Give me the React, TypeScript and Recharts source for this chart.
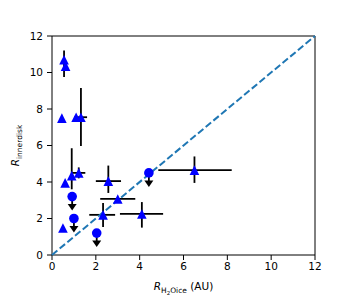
import React from 'react';
import { ScatterChart, Scatter, XAxis, YAxis, ErrorBar, ReferenceLine } from 'recharts';

// detections: R_H2Oice vs R_innerdisk, asymmetric errors as [minus, plus]
const triX = [0.55, 0.62, 0.45, 1.1, 1.32, 0.6, 0.9, 1.22, 0.5, 2.33, 3.0, 2.57, 4.1, 6.5];
const triY = [10.7, 10.35, 7.5, 7.55, 7.55, 3.95, 4.35, 4.5, 1.48, 2.2, 3.07, 4.05, 2.25, 4.65];
const triXErr = [[0, 0], [0, 0], [0, 0], [0, 0], [0.3, 0.28], [0, 0], [0, 0], [0.3, 0.3], [0, 0], [0.63, 0.55], [0.8, 0.8], [0.57, 0.58], [1.0, 0.97], [1.65, 1.7]];
const triYErr = [[0.95, 0.5], [0, 0], [0, 0], [0, 0], [1.58, 1.6], [0, 0], [0.75, 1.5], [0.3, 0.3], [0, 0], [0.67, 0.65], [0, 0], [0.65, 0.85], [0.75, 0.65], [0.7, 0.75]];

// upper limits on R_innerdisk
const limX = [0.92, 1.0, 2.04, 4.42];
const limY = [3.2, 2.0, 1.2, 4.5];

const ticks = [0, 2, 4, 6, 8, 10, 12];

const triangles = triX.map((x, i) => ({ x, y: triY[i], ex: triXErr[i], ey: triYErr[i] }));
const limits = limX.map((x, i) => ({ x, y: limY[i] }));
const diagonal = [{ x: 0, y: 0 }, { x: 12, y: 12 }];

const FONT = 'DejaVu Sans, sans-serif';

const Triangle = (props: any) => {
    const { cx, cy } = props;
    const s = 4.8;
    return <polygon points={`${cx},${cy - s} ${cx - s},${cy + s} ${cx + s},${cy + s}`} fill="#0000ff" />;
};

const LimitMarker = (props: any) => {
    const { cx, cy } = props;
    return (
        <g>
            <line x1={cx} y1={cy} x2={cx} y2={cy + 9} stroke="#000" strokeWidth={1.8} />
            <polygon points={`${cx - 4.5},${cy + 7.5} ${cx + 4.5},${cy + 7.5} ${cx},${cy + 14}`} fill="#000" />
            <circle cx={cx} cy={cy} r={4.8} fill="#0000ff" />
        </g>
    );
};

const XLabel = (props: any) => {
    const { viewBox } = props;
    const x = viewBox.x + viewBox.width / 2;
    const y = viewBox.y + 35;
    return (
        <text x={x} y={y} textAnchor="middle" fontSize={10.5} fontFamily={FONT} fill="#000">
            <tspan fontStyle="italic">R</tspan>
            <tspan dy={3} fontSize={7.5}>H</tspan>
            <tspan dy={1.5} fontSize={5.5}>2</tspan>
            <tspan dy={-1.5} fontSize={7.5}>Oice</tspan>
            <tspan dy={-3}> (AU)</tspan>
        </text>
    );
};

const YLabel = (props: any) => {
    const { viewBox } = props;
    const x = 19;
    const y = viewBox.y + viewBox.height / 2;
    return (
        <text x={x} y={y} textAnchor="middle" fontSize={10.5} fontFamily={FONT} fill="#000" transform={`rotate(-90 ${x} ${y})`}>
            <tspan fontStyle="italic">R</tspan>
            <tspan dy={3} fontSize={7.5}>innerdisk</tspan>
        </text>
    );
};

const App: React.FC = () => {
    const tickStyle = { fill: '#000', fontSize: 10.5, fontFamily: FONT };
    return (
        <div style={{ position: 'absolute', left: 0, top: 0, background: '#fff' }}>
            <ScatterChart width={350} height={300} margin={{ top: 36, right: 35, bottom: 0, left: 0 }}>
                <XAxis
                    type="number"
                    dataKey="x"
                    domain={[0, 12]}
                    ticks={ticks}
                    height={45}
                    tick={tickStyle}
                    tickSize={5}
                    tickMargin={3}
                    axisLine={{ stroke: '#000' }}
                    tickLine={{ stroke: '#000' }}
                    label={<XLabel />}
                />
                <YAxis
                    type="number"
                    dataKey="y"
                    domain={[0, 12]}
                    ticks={ticks}
                    width={52}
                    tick={tickStyle}
                    tickSize={5}
                    tickMargin={4}
                    axisLine={{ stroke: '#000' }}
                    tickLine={{ stroke: '#000' }}
                    label={<YLabel />}
                />
                <ReferenceLine y={12} stroke="#000" />
                <ReferenceLine x={12} stroke="#000" />
                <Scatter
                    data={diagonal}
                    line={{ stroke: '#1f77b4', strokeWidth: 2, strokeDasharray: '7 3' }}
                    shape={() => <g />}
                    isAnimationActive={false}
                />
                <Scatter data={triangles} shape={Triangle} isAnimationActive={false}>
                    <ErrorBar dataKey="ex" direction="x" width={0} stroke="#000" strokeWidth={1.8} />
                    <ErrorBar dataKey="ey" direction="y" width={0} stroke="#000" strokeWidth={1.8} />
                </Scatter>
                <Scatter data={limits} shape={LimitMarker} isAnimationActive={false} />
            </ScatterChart>
        </div>
    );
};

export default App;
